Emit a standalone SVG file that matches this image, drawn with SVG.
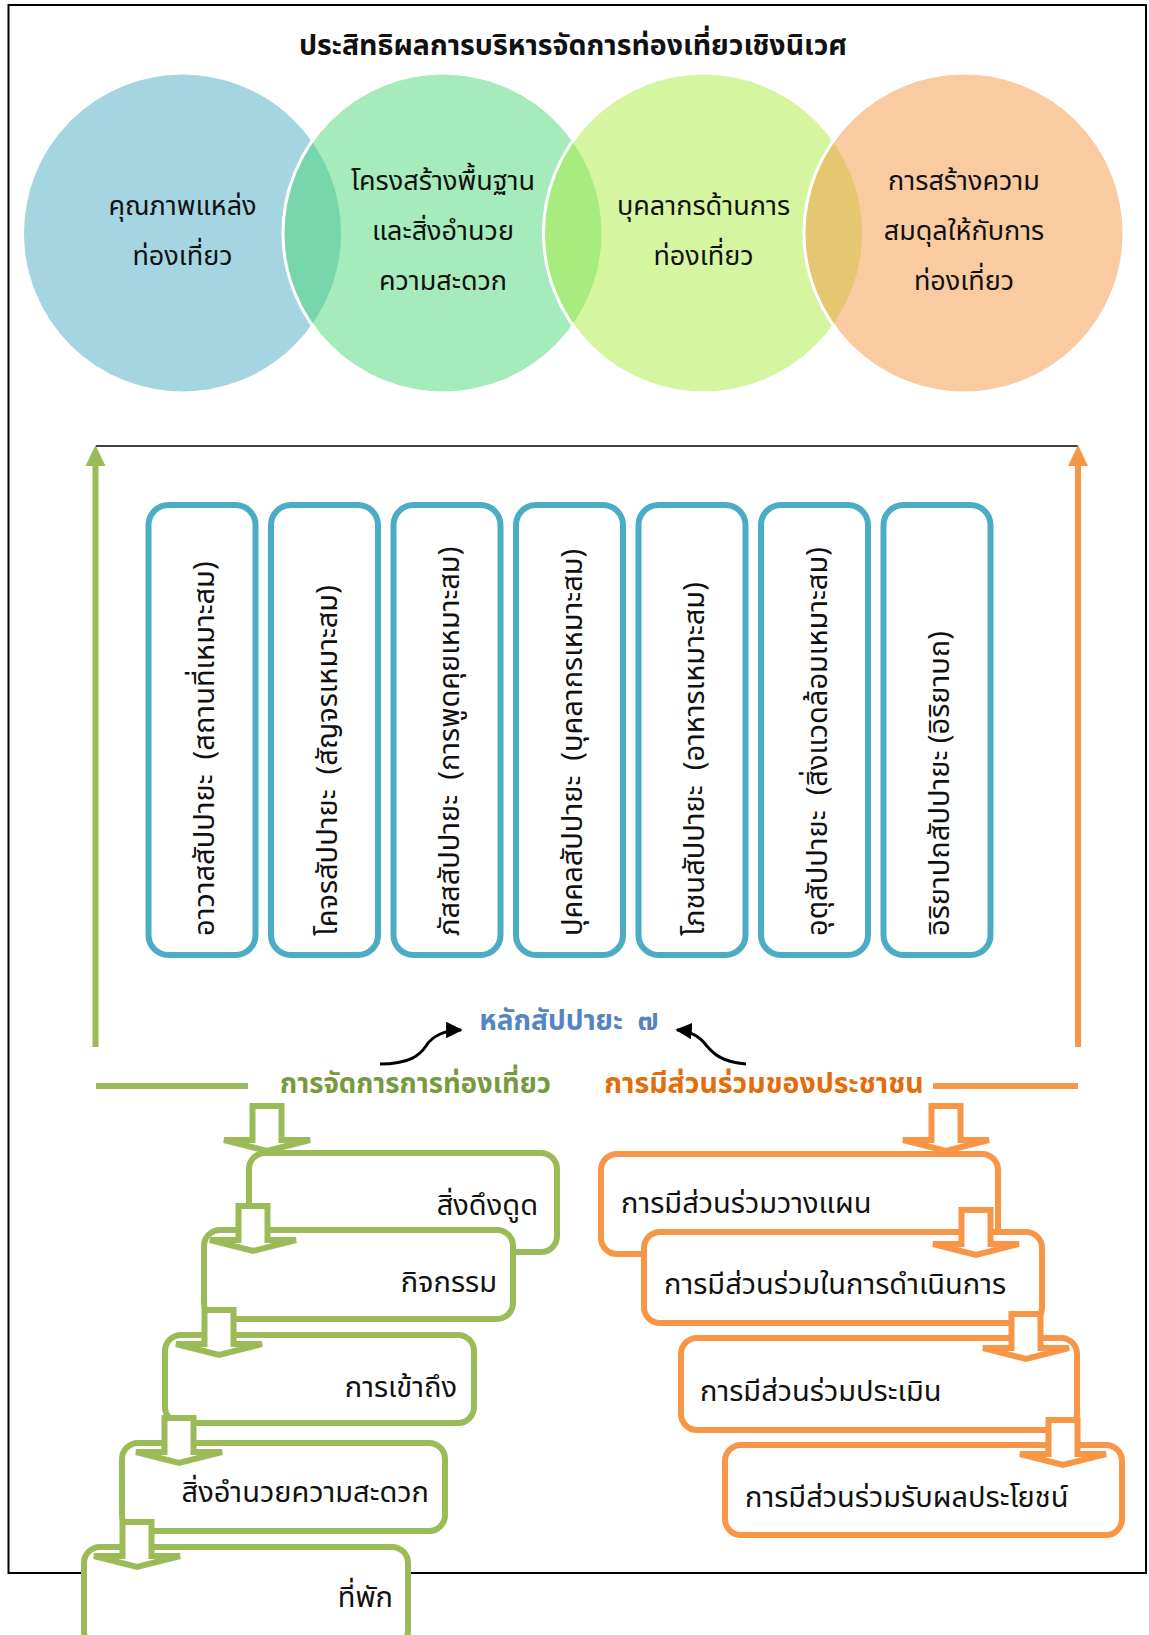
<svg xmlns="http://www.w3.org/2000/svg" width="1149" height="1635" viewBox="0 0 1149 1635">
<style>
text{font-family:"Noto Sans Thai","Noto Sans","DejaVu Sans",sans-serif;fill:#111}
.ct{font-size:27px;text-anchor:middle}
.bt{font-size:29px;white-space:pre}
.lt{font-size:29px}
.circ{fill-opacity:.5;stroke:#fff;stroke-width:3}
.bbox{fill:#fff;stroke:#4BACC6;stroke-width:6}
.gbox{fill:#fff;stroke:#9BBB59;stroke-width:6}
.obox{fill:#fff;stroke:#F79646;stroke-width:6}
.garr{fill:#fff;stroke:#9BBB59;stroke-width:6;stroke-linejoin:miter}
.oarr{fill:#fff;stroke:#F79646;stroke-width:6;stroke-linejoin:miter}
</style>
<defs>
<marker id="ah" viewBox="0 0 10 10" refX="9" refY="5" markerWidth="5.5" markerHeight="5.5" markerUnits="strokeWidth" orient="auto"><path d="M0,0 L10,5 L0,10 z" fill="#000"/></marker>
<g id="arr"><path d="M-14.5,3 H14.5 V37 H43 L0,48 L-43,37 H-14.5 Z"/></g>
</defs>
<rect x="8.5" y="5" width="1137.5" height="1568" fill="#fff" stroke="#000" stroke-width="2"/>
<text x="573" y="55" style="font-size:28.5px;font-weight:bold;text-anchor:middle">ประสิทธิผลการบริหารจัดการท่องเที่ยวเชิงนิเวศ</text>
<g id="circle1"><circle class="circ" cx="182.5" cy="233" r="160" fill="#4BABC4"/><text class="ct" x="182.5" y="215">คุณภาพแหล่ง</text><text class="ct" x="182.5" y="265">ท่องเที่ยว</text></g>
<g id="circle2"><circle class="circ" cx="443" cy="233" r="160" fill="#4BD777"/><text class="ct" x="443" y="190">โครงสร้างพื้นฐาน</text><text class="ct" x="443" y="240">และสิ่งอำนวย</text><text class="ct" x="443" y="290">ความสะดวก</text></g>
<g id="circle3"><circle class="circ" cx="703.5" cy="233" r="160" fill="#ABEB41"/><text class="ct" x="703.5" y="215">บุคลากรด้านการ</text><text class="ct" x="703.5" y="265">ท่องเที่ยว</text></g>
<g id="circle4"><circle class="circ" cx="964" cy="233" r="160" fill="#F59741"/><text class="ct" x="964" y="190">การสร้างความ</text><text class="ct" x="964" y="240">สมดุลให้กับการ</text><text class="ct" x="964" y="290">ท่องเที่ยว</text></g>
<g id="connectors">
<line x1="96" y1="446" x2="1078" y2="446" stroke="#000" stroke-width="1.5"/>
<line x1="95.5" y1="1047" x2="95.5" y2="462" stroke="#9BBB59" stroke-width="6"/>
<path d="M95.5,445 L105.5,466 L85.5,466 Z" fill="#9BBB59"/>
<line x1="1078" y1="1047" x2="1078" y2="462" stroke="#F79646" stroke-width="6"/>
<path d="M1078,445 L1088,466 L1068,466 Z" fill="#F79646"/>
<line x1="96" y1="1086" x2="248" y2="1086" stroke="#9BBB59" stroke-width="6"/>
<line x1="933" y1="1086" x2="1078" y2="1086" stroke="#F79646" stroke-width="6"/>
<path d="M380,1064 C410,1064 420,1055 426,1046 C432,1036 445,1030 461,1030" fill="none" stroke="#000" stroke-width="3" marker-end="url(#ah)"/>
<path d="M746,1064 C720,1062 712,1052 706,1045 C700,1037 690,1031 677,1030" fill="none" stroke="#000" stroke-width="3" marker-end="url(#ah)"/>
</g>
<g id="box1"><rect class="bbox" x="148.5" y="505" width="107" height="450" rx="20"/><text class="bt" transform="translate(214,936) rotate(-90)">อาวาสสัปปายะ  (สถานที่เหมาะสม)</text></g>
<g id="box2"><rect class="bbox" x="271" y="505" width="107" height="450" rx="20"/><text class="bt" transform="translate(336.5,936) rotate(-90)">โคจรสัปปายะ  (สัญจรเหมาะสม)</text></g>
<g id="box3"><rect class="bbox" x="393.5" y="505" width="107" height="450" rx="20"/><text class="bt" transform="translate(459,936) rotate(-90)">ภัสสสัปปายะ  (การพูดคุยเหมาะสม)</text></g>
<g id="box4"><rect class="bbox" x="516" y="505" width="107" height="450" rx="20"/><text class="bt" transform="translate(581.5,936) rotate(-90)">ปุคคลสัปปายะ  (บุคลากรเหมาะสม)</text></g>
<g id="box5"><rect class="bbox" x="638.5" y="505" width="107" height="450" rx="20"/><text class="bt" transform="translate(704,936) rotate(-90)">โภชนสัปปายะ  (อาหารเหมาะสม)</text></g>
<g id="box6"><rect class="bbox" x="761" y="505" width="107" height="450" rx="20"/><text class="bt" transform="translate(826.5,936) rotate(-90)">อุตุสัปปายะ  (สิ่งแวดล้อมเหมาะสม)</text></g>
<g id="box7"><rect class="bbox" x="883.5" y="505" width="107" height="450" rx="20"/><text class="bt" transform="translate(949,936) rotate(-90)">อิริยาปถสัปปายะ (อิริยาบถ)</text></g>
<g id="label-sappaya"><text x="569" y="1030" style="font-size:28px;font-weight:bold;fill:#5584C2;text-anchor:middle;white-space:pre">หลักสัปปายะ  ๗</text></g>
<g id="label-management"><text x="415.5" y="1093" style="font-size:27.5px;font-weight:bold;fill:#789A3E;text-anchor:middle">การจัดการการท่องเที่ยว</text></g>
<g id="label-participation"><text x="764" y="1093" style="font-size:28.5px;font-weight:bold;fill:#E46C0A;text-anchor:middle">การมีส่วนร่วมของประชาชน</text></g>
<g id="g1"><rect class="gbox" x="249" y="1153" width="308" height="99" rx="16"/><text class="lt" x="538" y="1215" text-anchor="end">สิ่งดึงดูด</text></g>
<g id="g2"><rect class="gbox" x="204" y="1230" width="309" height="89" rx="16"/><text class="lt" x="497" y="1292" text-anchor="end">กิจกรรม</text></g>
<g id="g3"><rect class="gbox" x="165" y="1335" width="309" height="88" rx="16"/><text class="lt" x="457" y="1397" text-anchor="end">การเข้าถึง</text></g>
<g id="g4"><rect class="gbox" x="122" y="1443" width="323" height="88" rx="16"/><text class="lt" x="429" y="1502" text-anchor="end">สิ่งอำนวยความสะดวก</text></g>
<g id="g5"><rect class="gbox" x="84" y="1547" width="324" height="100" rx="16"/><text class="lt" x="393" y="1607" text-anchor="end">ที่พัก</text></g>
<g id="garrows">
<use href="#arr" class="garr" transform="translate(267,1103)"/>
<use href="#arr" class="garr" transform="translate(253,1203)"/>
<use href="#arr" class="garr" transform="translate(219,1307)"/>
<use href="#arr" class="garr" transform="translate(179,1415)"/>
<use href="#arr" class="garr" transform="translate(137,1519)"/>
</g>
<g id="o1"><rect class="obox" x="601" y="1154" width="397" height="100" rx="16"/><text class="lt" x="621" y="1213">การมีส่วนร่วมวางแผน</text></g>
<g id="o2"><rect class="obox" x="644" y="1232" width="398" height="91" rx="16"/><text class="lt" x="664" y="1294">การมีส่วนร่วมในการดำเนินการ</text></g>
<g id="o3"><rect class="obox" x="681" y="1338" width="396" height="92" rx="16"/><text class="lt" x="700" y="1401">การมีส่วนร่วมประเมิน</text></g>
<g id="o4"><rect class="obox" x="725" y="1445" width="397" height="90" rx="16"/><text class="lt" x="745" y="1507">การมีส่วนร่วมรับผลประโยชน์</text></g>
<g id="oarrows">
<use href="#arr" class="oarr" transform="translate(946,1103)"/>
<use href="#arr" class="oarr" transform="translate(976,1207)"/>
<use href="#arr" class="oarr" transform="translate(1026,1311)"/>
<use href="#arr" class="oarr" transform="translate(1063,1417)"/>
</g>
</svg>
